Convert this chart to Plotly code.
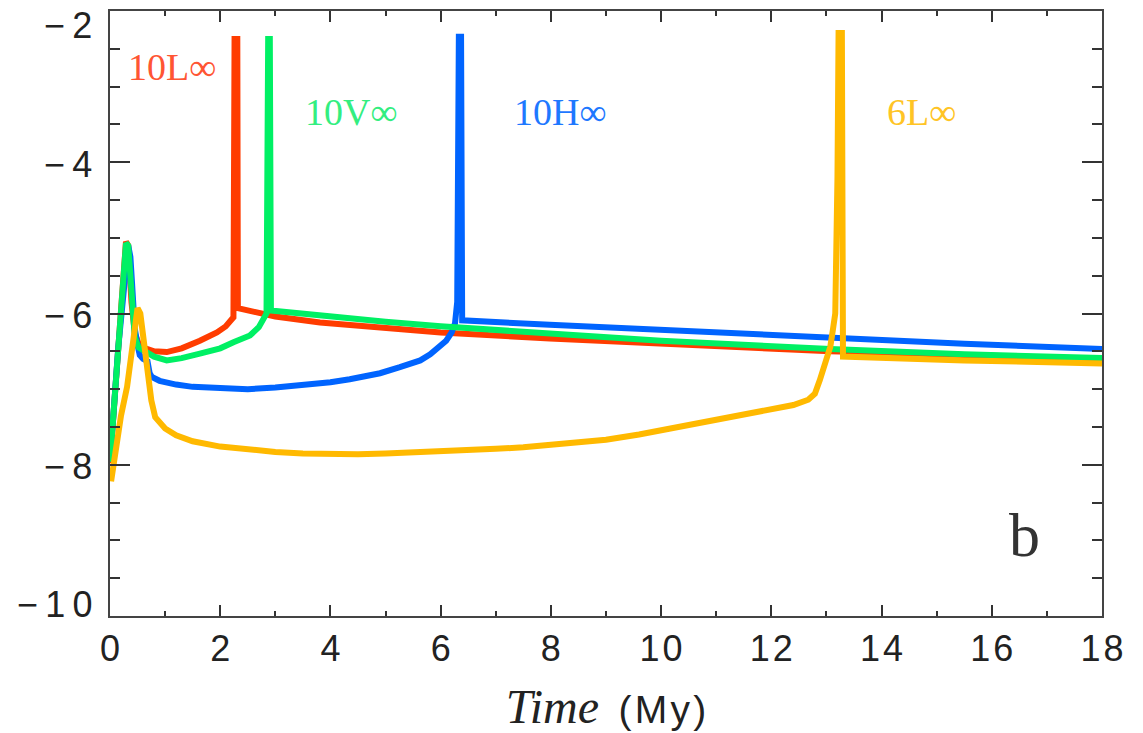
import plotly.graph_objects as go

# Time axis (My) and log abundance for each model track
t_10L = [0.0, 0.05, 0.15, 0.29, 0.33, 0.39, 0.45, 0.52, 0.64, 0.80, 1.03, 1.30, 1.63, 1.94, 2.10, 2.20, 2.24,
         2.26, 2.31, 2.32, 2.54, 3.0, 3.81, 5.0, 6.0, 7.98, 10.0, 13.07, 15.5, 18.0]
v_10L = [-7.98, -7.45, -6.40, -5.05, -5.10, -5.85, -6.26, -6.40, -6.46, -6.50, -6.51, -6.46, -6.36, -6.25, -6.17, -6.10, -6.05,
         -2.37, -2.37, -5.93, -5.97, -6.04, -6.12, -6.20, -6.25, -6.33, -6.40, -6.50, -6.55, -6.60]

t_10V = [0.0, 0.05, 0.15, 0.29, 0.33, 0.39, 0.45, 0.52, 0.64, 0.80, 1.03, 1.30, 1.63, 2.0, 2.24, 2.54, 2.70, 2.78, 2.84,
         2.87, 2.90, 2.92, 3.81, 5.0, 6.0, 7.98, 10.0, 13.07, 15.5, 18.0]
v_10V = [-7.96, -7.45, -6.40, -5.07, -5.10, -5.87, -6.32, -6.45, -6.51, -6.57, -6.62, -6.59, -6.53, -6.46, -6.38, -6.29, -6.18, -6.09, -6.00,
         -2.37, -2.37, -5.96, -6.03, -6.11, -6.17, -6.27, -6.36, -6.47, -6.54, -6.59]

t_10H = [0.0, 0.05, 0.15, 0.33, 0.37, 0.40, 0.45, 0.50, 0.54, 0.60, 0.68, 0.72, 0.76, 0.90, 1.03, 1.20, 1.50, 2.0, 2.5,
         3.0, 3.45, 4.0, 4.35, 4.9, 5.26, 5.63, 5.81, 5.99, 6.10, 6.20, 6.26, 6.30, 6.33, 6.37, 6.39, 7.98, 10.0, 13.07, 15.5, 18.0]
v_10H = [-7.96, -7.50, -6.45, -5.10, -5.25, -5.60, -6.20, -6.42, -6.55, -6.60, -6.63, -6.79, -6.84, -6.89, -6.92, -6.94, -6.97, -6.99, -7.00,
         -6.98, -6.95, -6.91, -6.87, -6.79, -6.71, -6.62, -6.54, -6.44, -6.36, -6.25, -6.13, -5.85, -2.34, -2.34, -6.09, -6.15, -6.22, -6.32, -6.40, -6.47]

t_6L = [0.02, 0.10, 0.20, 0.31, 0.40, 0.46, 0.50, 0.55, 0.62, 0.67, 0.75, 0.82, 1.0, 1.2, 1.5, 2.0, 2.5, 3.0, 3.5,
        4.0, 4.5, 5.0, 5.5, 6.0, 6.5, 7.0, 7.5, 8.0, 8.5, 9.0, 9.6, 10.2, 10.7, 11.2, 11.6, 12.0, 12.4, 12.67,
        12.79, 12.88, 12.98, 13.07, 13.12, 13.16, 13.20, 13.22, 13.28, 13.30, 15.5, 18.0]
v_6L = [-8.22, -7.80, -7.35, -6.97, -6.50, -6.05, -5.93, -6.00, -6.40, -6.75, -7.15, -7.37, -7.52, -7.61, -7.69, -7.76, -7.80, -7.83, -7.85,
        -7.86, -7.86, -7.85, -7.84, -7.83, -7.81, -7.79, -7.77, -7.74, -7.71, -7.67, -7.60, -7.52, -7.45, -7.39, -7.33, -7.28, -7.21, -7.14,
        -7.06, -6.88, -6.65, -6.44, -6.20, -6.00, -4.20, -2.29, -2.29, -6.57, -6.62, -6.66]

series = [
    ("10L∞", t_10L, v_10L, "#FF3C00", 1.13, -2.74, "#FF5533"),
    ("10H∞", t_10H, v_10H, "#0064FF", 8.17, -3.33, "#1E78FF"),
    ("10V∞", t_10V, v_10V, "#00F064", 4.39, -3.33, "#33EE80"),
    ("6L∞", t_6L, v_6L, "#FFB900", 14.72, -3.33, "#FFC425"),
]

y_ticks = [-10, -8, -6, -4, -2]
y_label_shift = [12, -2, -2, -2, -14]

fig = go.Figure()
for name, t, v, color, lx, ly, lcolor in series:
    fig.add_trace(go.Scatter(x=t, y=v, mode="lines", name=name,
                             line=dict(color=color, width=6), showlegend=False))
    fig.add_annotation(x=lx, y=ly, text=name, showarrow=False, xref="x", yref="y",
                       font=dict(family="Liberation Serif", size=38, color=lcolor))

# y tick labels, spaced out and nudged inside the frame at the ends
for val, shift in zip(y_ticks, y_label_shift):
    label = "\u2212\u2009" + "\u2009".join(str(abs(val)))
    fig.add_annotation(x=0, y=val, xref="paper", yref="y", text=label,
                       showarrow=False, xanchor="right", yanchor="middle",
                       xshift=-16, yshift=shift,
                       font=dict(family="Liberation Sans", size=36, color="#222"))

fig.add_annotation(x=16.6, y=-8.93, text="b", showarrow=False,
                   font=dict(family="Liberation Serif", size=62, color="#333"))

axis_common = dict(showline=True, linecolor="#444", linewidth=1.5, mirror="allticks",
                   ticks="inside", tickcolor="#333", tickwidth=1.5, showgrid=False, zeroline=False)

x_ticks = [0, 2, 4, 6, 8, 10, 12, 14, 16, 18]
fig.update_xaxes(range=[0, 18], tickvals=x_ticks,
                 ticktext=["\u200a".join(str(v)) for v in x_ticks], ticklen=11,
                 minor=dict(dtick=1, ticklen=5, ticks="inside", tickcolor="#333", tickwidth=1.5),
                 tickfont=dict(family="Liberation Sans", size=36, color="#222"),
                 title=dict(text="<span style=\"font-family:'Liberation Serif';font-size:48px\"><i>Time</i></span>"
                                 "\u2002(\u200aM\u200ay\u200a)",
                            font=dict(family="Liberation Sans", size=39, color="#222"), standoff=28),
                 **axis_common)
fig.update_yaxes(range=[-10, -2], tickvals=y_ticks, ticklen=20, showticklabels=False,
                 minor=dict(dtick=0.5, ticklen=10, ticks="inside", tickcolor="#333", tickwidth=1.5),
                 **axis_common)

fig.update_layout(width=1143, height=733, margin=dict(l=110, r=41, t=9, b=116),
                  plot_bgcolor="white", paper_bgcolor="white")

fig.write_html("out.html")
